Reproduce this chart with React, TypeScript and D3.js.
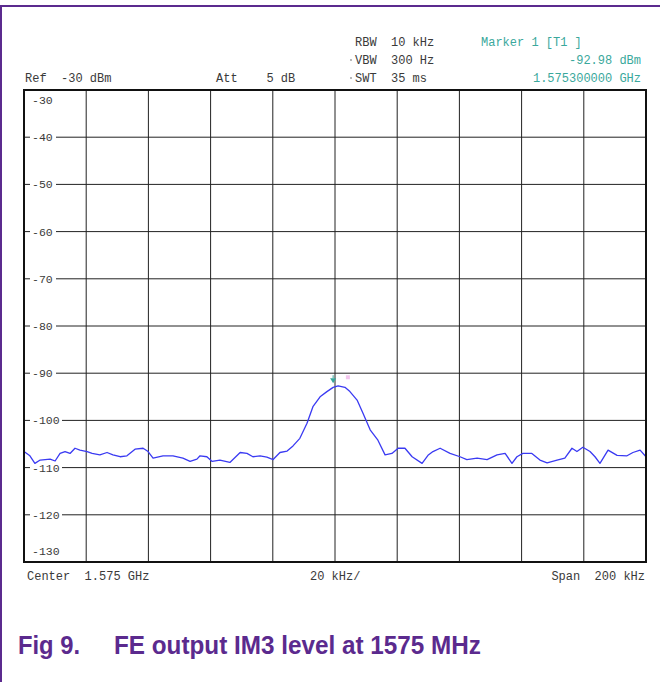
import React from "react";
import * as d3 from "d3";

// spectrum analyser trace, offset from centre (kHz) vs level (dBm)
const offsetsKHz = [
  -100, -98.1, -96.5, -94.8, -91.6, -90.0, -88.4, -86.8, -85.2, -83.6, -82.0, -79.7, -78.1,
  -75.6, -73.3, -71.4, -69.1, -66.9, -64.3, -61.7, -60.1, -58.5, -55.3, -52.1, -48.9, -46.6,
  -44.4, -43.4, -41.2, -39.5, -37.0, -33.8, -30.5, -28.3, -26.4, -24.1, -21.9, -19.9, -17.7,
  -15.4, -13.5, -11.3, -9.0, -7.1, -4.8, -2.6, -0.6, 1.0, 3.2, 4.8, 7.1, 9.0, 11.3, 13.8,
  16.1, 18.3, 20.3, 22.5, 24.8, 28.0, 29.9, 31.5, 33.8, 37.0, 40.2, 42.4, 45.7, 48.9, 52.1,
  54.7, 56.9, 58.5, 60.4, 63.3, 65.9, 68.2, 71.4, 73.9, 76.2, 77.8, 79.7, 82.0, 83.6, 85.2,
  87.8, 90.7, 93.9, 95.8, 98.1, 100,
];
const levelsDbm = [
  -106.6, -107.5, -109.1, -108.4, -108.2, -108.6, -107.0, -106.6, -107.0, -105.9, -106.3,
  -106.6, -107.0, -107.3, -106.8, -107.3, -107.7, -107.5, -106.1, -105.9, -106.6, -108.0,
  -107.5, -107.5, -108.0, -108.7, -108.2, -107.5, -107.7, -108.7, -108.4, -108.9, -106.8,
  -107.0, -107.7, -107.5, -107.8, -108.3, -106.8, -106.5, -105.4, -103.8, -100.6, -97.1,
  -95.0, -93.9, -93.0, -92.7, -93.0, -93.9, -95.7, -98.5, -102.0, -104.2, -107.3, -107.0,
  -105.9, -105.9, -107.7, -109.1, -107.4, -106.6, -105.9, -107.0, -107.7, -108.3, -108.0,
  -108.3, -107.3, -107.0, -109.1, -107.7, -107.0, -107.0, -108.4, -109.0, -108.4, -108.0,
  -105.9, -106.6, -105.7, -106.6, -107.7, -109.1, -106.3, -107.4, -107.5, -106.8, -106.3,
  -107.7,
];
const yTicks = [-30, -40, -50, -60, -70, -80, -90, -100, -110, -120, -130];
const xDivs = [-100, -80, -60, -40, -20, 0, 20, 40, 60, 80, 100];
const markerOffset = -0.6;
const markerLevel = -92.98;

// analyser screen uses padded fields, keep the gaps with nbsp
const nb = (s: string) => s.replace(/ /g, "\u00A0");
const headerLeft = ["Ref  -30 dBm", "Att    5 dB"];
const headerMid = ["RBW  10 kHz", "VBW  300 Hz", "SWT  35 ms"];
const headerMarker = ["Marker 1 [T1 ]", "-92.98 dBm", "1.575300000 GHz"];
const footer = ["Center  1.575 GHz", "20 kHz/", "Span  200 kHz"];
const caption = ["Fig 9.", "FE output IM3 level at 1575 MHz"];

const width = 660;
const height = 682;
const margin = { top: 90, right: 14, bottom: 120, left: 24 };

const mono = "'Liberation Mono', 'DejaVu Sans Mono', monospace";
const textCol = "#3a3a3a";
const teal = "#3aa89c";
const purple = "#5b2a8e";

export default function App() {
  const x = d3
    .scaleLinear()
    .domain([-100, 100])
    .range([margin.left, width - margin.right]);
  const y = d3
    .scaleLinear()
    .domain([-30, -130])
    .range([margin.top, height - margin.bottom]);

  const line = d3
    .line<number>()
    .x((i) => x(offsetsKHz[i]))
    .y((i) => y(levelsDbm[i]));
  const I = d3.range(offsetsKHz.length);

  const x0 = x(-100);
  const x1 = x(100);
  const y0 = y(-30);
  const y1 = y(-130);

  return (
    <svg
      width={width}
      height={height}
      style={{ position: "absolute", left: 0, top: 0, background: "#fff" }}
    >
      {/* purple page frame */}
      <line x1={0} x2={width} y1={6} y2={6} stroke={purple} strokeWidth={2} />
      <line x1={1} x2={1} y1={6} y2={height} stroke={purple} strokeWidth={2} />

      {/* header */}
      <g fontFamily={mono} fontSize={12} fill={textCol}>
        <text x={25} y={82}>{nb(headerLeft[0])}</text>
        <text x={216} y={82}>{nb(headerLeft[1])}</text>
        {headerMid.map((t, i) => (
          <text key={t} x={355} y={46 + i * 18}>{nb(t)}</text>
        ))}
        <circle cx={351} cy={60} r={0.9} fill="#999" />
        <circle cx={351} cy={78} r={0.9} fill="#999" />
        <text x={481} y={46} fill={teal}>{nb(headerMarker[0])}</text>
        <text x={641} y={64} fill={teal} textAnchor="end">{nb(headerMarker[1])}</text>
        <text x={641} y={82} fill={teal} textAnchor="end">{nb(headerMarker[2])}</text>
      </g>

      {/* grid */}
      <g stroke="#222" strokeWidth={1}>
        {xDivs.slice(1, -1).map((d) => (
          <line key={"v" + d} x1={x(d)} x2={x(d)} y1={y0} y2={y1} />
        ))}
        {yTicks.slice(1, -1).map((d) => (
          <line key={"h" + d} x1={x0} x2={x1} y1={y(d)} y2={y(d)} />
        ))}
      </g>

      {/* level labels */}
      <g fontFamily={mono} fontSize={11.5} fill={textCol}>
        {yTicks.map((d, i) => {
          const inner = i === 0 || i === yTicks.length - 1;
          const ty = i === 0 ? y(d) + 14 : i === yTicks.length - 1 ? y(d) - 7 : y(d) + 4;
          return (
            <g key={"l" + d}>
              {!inner && <rect x={30} y={y(d) - 5} width={d <= -100 ? 32 : 26} height={10} fill="#fff" />}
              <text x={32} y={ty}>{d}</text>
            </g>
          );
        })}
      </g>

      {/* trace */}
      <path
        d={line(I) ?? ""}
        fill="none"
        stroke="#3a3af2"
        strokeWidth={1.3}
        strokeLinejoin="round"
      />

      {/* marker */}
      <path
        d={`M${x(markerOffset) - 3},${y(markerLevel) - 9} h6 l-3,5 z`}
        fill={teal}
      />
      <line
        x1={x(markerOffset)}
        x2={x(markerOffset)}
        y1={y(markerLevel) - 12}
        y2={y(markerLevel) - 9}
        stroke={teal}
        strokeWidth={1}
      />
      <rect x={x(3.5)} y={y(markerLevel) - 12} width={4} height={4} fill="#f3c6ee" />

      {/* outer frame */}
      <rect x={x0} y={y0} width={x1 - x0} height={y1 - y0} fill="none" stroke="#111" strokeWidth={2} />

      {/* footer */}
      <g fontFamily={mono} fontSize={12} fill={textCol}>
        <text x={27} y={580}>{nb(footer[0])}</text>
        <text x={310} y={580}>{nb(footer[1])}</text>
        <text x={645} y={580} textAnchor="end">{nb(footer[2])}</text>
      </g>

      {/* caption */}
      <g fontFamily="'Liberation Sans', Arial, sans-serif" fontWeight="bold" fontSize={26} fill={purple}>
        <text x={18} y={654} textLength={62} lengthAdjust="spacingAndGlyphs">{caption[0]}</text>
        <text x={114} y={654} textLength={367} lengthAdjust="spacingAndGlyphs">{caption[1]}</text>
      </g>
    </svg>
  );
}
